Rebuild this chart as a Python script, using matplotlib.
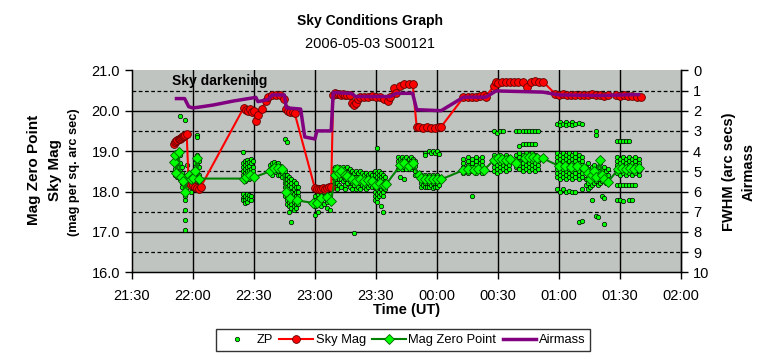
import matplotlib
matplotlib.use("Agg")
import matplotlib.pyplot as plt
from matplotlib.lines import Line2D
from matplotlib.ticker import FixedLocator, FuncFormatter

plt.rcParams['font.family'] = ['Liberation Sans', 'DejaVu Sans']

# Sky Mag (mag per sq. arc sec)
sky_time = ["21:51", "21:51.5", "21:52", "21:52.5", "21:53", "21:53.5", "21:54", "21:54.5",
            "21:55", "21:55.5", "21:56", "21:57", "21:58", "21:59", "22:00", "22:01", "22:02",
            "22:03", "22:04", "22:25", "22:26", "22:27", "22:28", "22:29", "22:30", "22:31",
            "22:32", "22:34", "22:36", "22:37", "22:39", "22:41", "22:43", "22:45", "22:46",
            "22:47", "22:48", "22:49", "22:50", "23:00", "23:01", "23:02", "23:03", "23:04",
            "23:05", "23:06", "23:07", "23:08", "23:09", "23:10", "23:11", "23:12", "23:13",
            "23:14", "23:15", "23:16", "23:17", "23:18", "23:19", "23:20", "23:21", "23:22",
            "23:24", "23:26", "23:28", "23:30", "23:32", "23:34", "23:36", "23:37", "23:39",
            "23:40", "23:42", "23:44", "23:46", "23:48", "23:50", "23:51", "23:53", "23:55",
            "23:57", "23:59", "00:01", "00:02", "00:13", "00:15", "00:17", "00:19", "00:21",
            "00:23", "00:24", "00:28", "00:29", "00:30", "00:32", "00:34", "00:36", "00:38",
            "00:40", "00:42", "00:44", "00:46", "00:48", "00:50", "00:52", "00:58", "01:00",
            "01:02", "01:04", "01:06", "01:08", "01:10", "01:12", "01:14", "01:16", "01:18",
            "01:20", "01:22", "01:24", "01:28", "01:30", "01:32", "01:34", "01:36", "01:38",
            "01:40"]
sky_mag = [19.18, 19.22, 19.25, 19.28, 19.30, 19.30, 19.33, 19.35,
           19.37, 19.38, 19.40, 19.43, 18.20, 18.15, 18.15, 18.10, 18.08,
           18.05, 18.12, 20.07, 20.02, 20.00, 20.03, 19.98, 20.00, 19.75,
           19.90, 20.05, 20.25, 20.35, 20.38, 20.38, 20.38, 20.30, 20.05,
           20.00, 19.98, 19.98, 19.95, 18.08, 18.05, 18.06, 18.05, 18.08,
           18.05, 18.08, 18.10, 18.10, 20.40, 20.45, 20.42, 20.42, 20.40,
           20.42, 20.40, 20.40, 20.38, 20.20, 20.15, 20.20, 20.30, 20.33,
           20.35, 20.35, 20.37, 20.35, 20.33, 20.30, 20.25, 20.35, 20.55,
           20.45, 20.62, 20.65, 20.67, 20.67, 19.60, 19.60, 19.58, 19.60,
           19.58, 19.58, 19.60, 19.60, 20.33, 20.35, 20.35, 20.35, 20.37,
           20.38, 20.35, 20.62, 20.72, 20.68, 20.72, 20.70, 20.72, 20.72,
           20.70, 20.72, 20.58, 20.72, 20.73, 20.72, 20.72, 20.42, 20.40,
           20.42, 20.40, 20.40, 20.40, 20.38, 20.40, 20.40, 20.42, 20.40,
           20.38, 20.37, 20.38, 20.38, 20.37, 20.38, 20.36, 20.36, 20.35,
           20.33]

# Mag Zero Point
mzp_time = ["21:51", "21:51.5", "21:52", "21:53", "21:54", "21:55", "21:56", "21:58",
            "21:59", "22:00", "22:01", "22:02", "22:03", "22:25", "22:26", "22:28", "22:30",
            "22:38", "22:40", "22:42", "22:44", "22:46", "22:48", "22:51", "22:59", "23:01",
            "23:03", "23:06", "23:08", "23:10", "23:11", "23:12", "23:13", "23:15", "23:16",
            "23:18", "23:20", "23:22", "23:24", "23:26", "23:28", "23:30", "23:32", "23:34",
            "23:35", "23:42", "23:44", "23:46", "23:48", "23:51", "23:52", "23:54", "23:56",
            "23:58", "00:00", "00:02", "00:13", "00:15", "00:18", "00:20", "00:23", "00:28",
            "00:30", "00:32", "00:34", "00:36", "00:39", "00:43", "00:45", "00:47", "00:49",
            "00:52", "01:00", "01:03", "01:06", "01:09", "01:12", "01:14", "01:15", "01:16",
            "01:17", "01:18", "01:20", "01:21", "01:22", "01:24", "01:29", "01:31", "01:33",
            "01:35", "01:37", "01:39"]
mzp_mag = [18.72, 18.90, 18.45, 18.97, 18.37, 18.25, 18.00, 18.40,
           18.30, 18.33, 18.50, 18.82, 18.32, 18.32, 18.35, 18.40, 18.35,
           18.50, 18.58, 18.58, 18.55, 17.98, 17.85, 17.78, 17.72, 17.71,
           17.83, 17.87, 17.77, 18.40, 18.55, 18.45, 18.50, 18.40, 18.38,
           18.30, 18.25, 18.30, 18.25, 18.28, 18.25, 18.15, 18.20, 18.15,
           18.18, 18.65, 18.70, 18.62, 18.70, 18.41, 18.33, 18.30, 18.32,
           18.30, 18.30, 18.30, 18.53, 18.55, 18.52, 18.55, 18.53, 18.78,
           18.82, 18.80, 18.78, 18.80, 18.70, 18.82, 18.85, 18.85, 18.83,
           18.82, 18.63, 18.62, 18.60, 18.62, 18.58, 18.45, 18.30, 18.40,
           18.50, 18.35, 18.78, 18.40, 18.30, 18.24, 18.55, 18.57, 18.55,
           18.57, 18.55, 18.58]

# Airmass (right axis)
air_time = ["21:52", "21:56", "21:58", "22:00", "22:02", "22:10", "22:20", "22:31", "22:32",
            "22:37", "22:39", "22:45", "22:46", "22:51", "22:53", "22:55", "23:00", "23:01",
            "23:08", "23:09", "23:18", "23:20", "23:37", "23:40", "23:48", "23:50", "00:02",
            "00:13", "00:24", "00:29", "00:52", "01:00", "01:20", "01:39"]
airmass = [1.40, 1.40, 1.80, 1.86, 1.84, 1.72, 1.52, 1.34, 1.55,
           1.45, 1.22, 1.22, 1.86, 1.90, 1.92, 3.30, 3.40, 3.00,
           3.00, 1.10, 1.15, 1.30, 1.30, 1.14, 1.14, 1.95, 2.00,
           1.33, 1.33, 1.02, 1.08, 1.22, 1.25, 1.20]

# ZP - individual frames, one column per time
zp_time = ["21:51.5", "21:52.5", "21:53.5", "21:54.5", "21:56", "21:57", "21:59", "22:00",
           "22:01", "22:02", "22:03",
           "22:24.5", "22:25.5", "22:26.5", "22:27.5", "22:28.5", "22:29.5",
           "22:38", "22:39", "22:40", "22:41", "22:42", "22:43", "22:44",
           "22:45.5", "22:46.5", "22:47.5", "22:48.5", "22:49.5", "22:50.5", "22:51.5",
           "23:00", "23:01.5", "23:03", "23:04.5", "23:06", "23:07.5",
           "23:09", "23:10", "23:11", "23:12", "23:13", "23:14", "23:15", "23:16", "23:17",
           "23:18", "23:19", "23:20", "23:21", "23:22", "23:23", "23:24", "23:25", "23:26",
           "23:27", "23:28",
           "23:29.5", "23:30.5", "23:31.5", "23:32.5", "23:33.5", "23:34.5",
           "23:41", "23:42", "23:43", "23:44", "23:45", "23:46", "23:47", "23:48", "23:49",
           "23:52", "23:53", "23:54", "23:55", "23:56", "23:57", "23:58", "23:59", "00:00",
           "00:01",
           "00:13", "00:15", "00:17", "00:19", "00:21", "00:22",
           "00:28", "00:29.5", "00:31", "00:32.5", "00:34", "00:35.5",
           "00:39", "00:40.5", "00:42", "00:43.5", "00:45", "00:46.5", "00:48", "00:49.5",
           "00:59", "01:00.5", "01:02", "01:03.5", "01:05", "01:06.5", "01:08", "01:09.5",
           "01:11",
           "01:13", "01:14", "01:15", "01:16", "01:17", "01:18", "01:19", "01:20", "01:21",
           "01:22", "01:23", "01:24",
           "01:28.5", "01:30", "01:31.5", "01:33", "01:34.5", "01:36", "01:37.5", "01:39"]
zp_mag = [
    [18.85, 18.75, 18.65, 18.55, 18.45, 18.40],
    [18.95, 18.80, 18.70, 18.60, 18.50, 18.35],
    [19.86, 18.90, 18.70, 18.50, 18.40, 18.30],
    [18.60, 18.45, 18.30, 18.20, 18.10],
    [19.78, 18.30, 18.15, 18.00, 17.90, 17.78, 17.55, 17.30, 17.05],
    [18.65, 18.40, 18.20, 18.10],
    [18.45, 18.30, 18.20, 18.10, 18.00],
    [18.50, 18.35, 18.20, 18.10],
    [18.70, 18.55, 18.35, 18.20],
    [19.40, 19.35, 18.90, 18.80, 18.65, 18.45, 18.30],
    [18.75, 18.60, 18.40, 18.25],
    [18.97, 18.70, 18.60, 18.50, 18.40, 18.30, 17.95, 17.85, 17.78],
    [18.75, 18.65, 18.55, 18.45, 18.35, 18.25, 17.90, 17.80, 17.72],
    [18.78, 18.70, 18.60, 18.50, 18.40, 18.30, 17.95, 17.85, 17.75],
    [18.72, 18.62, 18.52, 18.42, 18.30, 17.92, 17.82],
    [18.80, 18.70, 18.55, 18.45, 18.35, 17.90, 17.80],
    [18.75, 18.60, 18.50, 18.40],
    [18.65, 18.55, 18.45],
    [18.70, 18.60, 18.50, 18.42],
    [18.72, 18.62, 18.52],
    [18.68, 18.58, 18.48],
    [18.70, 18.60, 18.50, 18.40],
    [18.62, 18.52, 18.42],
    [18.55, 18.45, 18.35],
    [19.30, 18.50, 18.40, 18.30, 18.20, 18.10, 18.00, 17.90],
    [19.22, 18.40, 18.30, 18.20, 18.10, 18.00, 17.90, 17.80, 17.70],
    [18.35, 18.25, 18.15, 18.05, 17.95, 17.85, 17.75, 17.65, 17.50],
    [18.30, 18.20, 18.10, 18.00, 17.90, 17.80, 17.70, 17.60, 17.25],
    [18.25, 18.15, 18.05, 17.95, 17.85, 17.75, 17.65, 17.55],
    [18.20, 18.10, 18.00, 17.90, 17.80, 17.70, 17.60],
    [18.10, 18.00, 17.90, 17.80, 17.70],
    [18.05, 17.90, 17.80, 17.65, 17.42],
    [18.10, 17.95, 17.85, 17.70, 17.50],
    [18.05, 17.95, 17.80, 17.65],
    [18.10, 18.00, 17.85, 17.70],
    [18.05, 17.90, 17.75, 17.60],
    [18.10, 17.95, 17.80, 17.55],
    [18.55, 18.45, 18.35, 18.25],
    [18.60, 18.50, 18.40, 18.30, 18.20, 18.10],
    [18.55, 18.45, 18.35, 18.20, 18.05],
    [18.60, 18.50, 18.40, 18.30, 18.15],
    [18.55, 18.45, 18.30, 18.10],
    [18.60, 18.50, 18.38, 18.25],
    [18.55, 18.42, 18.30, 18.15, 18.05],
    [18.60, 18.48, 18.35, 18.20],
    [18.55, 18.40, 18.25, 18.10],
    [18.50, 18.38, 18.22, 18.05],
    [18.45, 18.30, 18.15, 16.97],
    [18.50, 18.35, 18.20, 18.05],
    [18.45, 18.30, 18.10],
    [18.50, 18.35, 18.20, 18.05],
    [18.45, 18.30, 18.15],
    [18.40, 18.25, 18.10],
    [18.45, 18.30, 18.15, 18.05],
    [18.40, 18.25, 18.10],
    [18.45, 18.30, 18.15],
    [18.40, 18.25, 18.10],
    [18.50, 18.40, 18.30, 18.20, 18.10, 18.00, 17.90, 17.80],
    [19.08, 18.45, 18.35, 18.25, 18.15, 18.05, 17.95, 17.85, 17.75],
    [18.50, 18.40, 18.30, 18.20, 18.10, 18.00, 17.90],
    [18.45, 18.35, 18.25, 18.15, 18.05, 17.95, 17.65],
    [18.40, 18.30, 18.20, 18.10, 18.00, 17.90, 17.50],
    [18.35, 18.25, 18.15, 18.05],
    [18.85, 18.75, 18.65, 18.55],
    [18.80, 18.70, 18.60, 18.37],
    [18.85, 18.75, 18.65, 18.55],
    [18.80, 18.70, 18.60, 18.31],
    [18.85, 18.75, 18.65, 18.55],
    [18.80, 18.70, 18.60],
    [18.85, 18.75, 18.65, 18.55],
    [18.80, 18.70, 18.60],
    [18.75, 18.62, 18.50, 18.40],
    [18.40, 18.30, 18.20, 18.10],
    [18.38, 18.27, 18.15],
    [18.95, 18.90, 18.40, 18.30, 18.20, 18.10],
    [18.35, 18.25, 18.12],
    [19.00, 18.40, 18.30, 18.20, 18.10],
    [18.95, 18.35, 18.25, 18.15],
    [19.00, 18.40, 18.30, 18.20, 18.08],
    [18.95, 18.35, 18.25, 18.12],
    [19.00, 18.40, 18.30, 18.20, 18.10],
    [18.92, 18.35, 18.25, 18.15],
    [18.80, 18.70, 18.60, 18.50, 18.45],
    [18.85, 18.75, 18.65, 18.55, 18.45],
    [18.80, 18.70, 18.60, 18.50, 17.90],
    [18.85, 18.75, 18.65, 18.55, 18.45],
    [18.80, 18.70, 18.60, 18.50],
    [18.85, 18.75, 18.65, 18.55, 18.45],
    [19.50, 18.90, 18.80, 18.70, 18.60, 18.50],
    [19.45, 18.85, 18.75, 18.65, 18.55, 18.45],
    [19.50, 18.90, 18.80, 18.70, 18.60, 18.50],
    [19.50, 18.85, 18.75, 18.65, 18.55],
    [18.90, 18.80, 18.70, 18.60, 18.50],
    [18.85, 18.75, 18.65, 18.55],
    [19.50, 18.90, 18.80, 18.70, 18.60],
    [19.50, 19.12, 18.95, 18.85, 18.75, 18.65, 18.55],
    [19.50, 19.18, 18.90, 18.80, 18.70, 18.60, 18.50],
    [19.50, 19.18, 18.95, 18.85, 18.75, 18.65, 18.55],
    [19.50, 19.18, 18.90, 18.80, 18.70, 18.60, 18.50],
    [19.50, 19.18, 18.95, 18.85, 18.75, 18.65, 18.55],
    [19.50, 19.18, 18.90, 18.80, 18.70, 18.60, 18.50],
    [19.50, 18.85, 18.75, 18.65, 18.55],
    [19.68, 18.95, 18.85, 18.75, 18.65, 18.55, 18.45, 18.35, 18.05],
    [19.72, 19.65, 18.90, 18.80, 18.70, 18.60, 18.50, 18.40, 18.30, 18.00],
    [19.68, 18.95, 18.85, 18.75, 18.65, 18.55, 18.45, 18.35, 18.05],
    [19.72, 19.65, 18.90, 18.80, 18.70, 18.60, 18.50, 18.40, 18.30, 18.00],
    [19.68, 18.95, 18.85, 18.75, 18.65, 18.55, 18.45, 18.35, 18.02],
    [19.72, 19.65, 18.90, 18.80, 18.70, 18.60, 18.50, 18.40, 18.30, 17.98],
    [19.68, 18.95, 18.85, 18.75, 18.65, 18.55, 18.45, 18.35, 18.00],
    [19.70, 18.90, 18.80, 18.70, 18.60, 18.50, 18.40, 18.30, 17.24],
    [19.68, 18.85, 18.75, 18.65, 18.55, 18.45, 18.35, 18.05, 17.26],
    [18.60, 18.45, 18.30, 18.15],
    [18.70, 18.50, 18.35, 18.20, 18.05],
    [18.55, 18.40, 18.25, 18.10],
    [18.60, 18.45, 18.30, 18.15, 17.78],
    [18.65, 18.50, 18.35, 18.20],
    [19.50, 19.40, 18.55, 18.40, 18.25, 17.40],
    [18.60, 18.45, 18.30, 18.15, 17.36],
    [18.70, 18.50, 18.35, 18.20],
    [18.55, 18.40, 18.25, 17.90],
    [18.60, 18.45, 18.30, 17.85, 17.20],
    [18.50, 18.35, 18.20],
    [18.55, 18.40, 18.25],
    [19.26, 18.85, 18.75, 18.65, 18.55, 18.45, 18.15, 17.78],
    [19.26, 18.80, 18.70, 18.60, 18.50, 18.40, 18.15, 17.80],
    [19.26, 18.85, 18.75, 18.65, 18.55, 18.45, 18.15, 17.76],
    [19.26, 18.80, 18.70, 18.60, 18.50, 18.40, 18.15],
    [19.26, 18.85, 18.75, 18.65, 18.55, 18.45, 18.15, 17.80],
    [18.80, 18.70, 18.60, 18.50, 18.40, 18.15, 17.78],
    [18.85, 18.75, 18.65, 18.55, 18.45, 18.15],
    [18.80, 18.70, 18.60, 18.50, 18.40],
]

tick_labels = ["21:30", "22:00", "22:30", "23:00", "23:30", "00:00", "00:30", "01:00", "01:30", "02:00"]


def t2x(s):
    # "HH:MM" -> hours, running past midnight
    h, m = s.split(":")
    x = int(h) + float(m) / 60.0
    if x < 12:
        x += 24
    return x


fig = plt.figure(figsize=(7.63, 3.57), dpi=100)
ax = fig.add_axes([131.7 / 763, 1 - 272.3 / 357, (681.3 - 131.7) / 763, (272.3 - 70.3) / 357])
ax.set_facecolor('#c0c4c0')

# grid
for v in [16.5, 17.5, 18.5, 19.5, 20.5]:
    ax.axhline(v, color='black', lw=0.9, ls=(0, (3, 2)), zorder=0.5)
for v in [17, 18, 19, 20]:
    ax.axhline(v, color='black', lw=1.0, zorder=0.5)
xticks = [t2x(s) for s in tick_labels]
for v in xticks[1:-1]:
    ax.axvline(v, color='black', lw=1.0, zorder=0.5)

# ZP dots
zx, zy = [], []
for t, vals in zip(zp_time, zp_mag):
    for v in vals:
        zx.append(t2x(t))
        zy.append(v)
ax.plot(zx, zy, ls='none', marker='o', ms=3.2, mfc='#00ff00', mec='black', mew=0.5, zorder=2)

# Sky Mag
ax.plot([t2x(s) for s in sky_time], sky_mag, color='#ff0000', lw=1.5, marker='o', ms=5.6,
        mfc='#ff0000', mec='#600000', mew=0.6, zorder=3)

# Mag Zero Point
ax.plot([t2x(s) for s in mzp_time], mzp_mag, color='#008000', lw=1.5, marker='D', ms=5.6,
        mfc='#00ff00', mec='#006000', mew=0.6, zorder=4)

ax.set_xlim(21.5, 26.0)
ax.set_ylim(16, 21)
ax.xaxis.set_major_locator(FixedLocator(xticks))
ax.set_xticklabels(tick_labels)
ax.yaxis.set_major_locator(FixedLocator([16, 17, 18, 19, 20, 21]))
ax.yaxis.set_major_formatter(FuncFormatter(lambda v, p: "%.1f" % v))
ax.tick_params(axis='both', direction='out', length=5, width=1, labelsize=10.5, colors='black')
ax.tick_params(axis='x', pad=7)
ax.spines['top'].set_visible(False)
for s in ['left', 'bottom', 'right']:
    ax.spines[s].set_linewidth(1.0)

ax.text(t2x("21:50"), 20.74, "Sky darkening", fontsize=10, fontweight='bold', va='center', ha='left')

# Airmass on the secondary axis
ax2 = ax.twinx()
ax2.plot([t2x(s) for s in air_time], airmass, color='#800080', lw=2.5, zorder=5)
ax2.set_ylim(10, 0)
ax2.yaxis.set_major_locator(FixedLocator(range(0, 11)))
ax2.tick_params(axis='y', direction='out', length=5, width=1, labelsize=10.5, colors='black')
ax2.spines['top'].set_visible(False)
ax2.spines['right'].set_linewidth(1.0)

ax.set_xlabel("Time (UT)", fontsize=10.5, fontweight='bold', labelpad=0)

# titles and axis labels
fig.text(370 / 763, 1 - 21 / 357, "Sky Conditions Graph", fontsize=10, fontweight='bold', ha='center', va='center')
fig.text(370 / 763, 1 - 44 / 357, "2006-05-03 S00121", fontsize=10.5, ha='center', va='center')
fig.text(34 / 763, 1 - 170 / 357, "Mag Zero Point", fontsize=11, fontweight='bold', rotation=90, ha='center', va='center')
fig.text(55 / 763, 1 - 170 / 357, "Sky Mag", fontsize=11, fontweight='bold', rotation=90, ha='center', va='center')
fig.text(74 / 763, 1 - 172 / 357, "(mag per sq. arc sec)", fontsize=9.2, fontweight='bold', rotation=90, ha='center', va='center')
fig.text(729 / 763, 1 - 172 / 357, "FWHM (arc secs)", fontsize=10.5, fontweight='bold', rotation=90, ha='center', va='center')
fig.text(749 / 763, 1 - 172 / 357, "Airmass", fontsize=10.5, fontweight='bold', rotation=90, ha='center', va='center')

# legend
handles = [
    Line2D([], [], ls='none', marker='o', ms=3.2, mfc='#00ff00', mec='black', mew=0.5),
    Line2D([], [], color='#ff0000', lw=1.5, marker='o', ms=5.6, mfc='#ff0000', mec='#600000', mew=0.6),
    Line2D([], [], color='#008000', lw=1.5, marker='D', ms=5, mfc='#00ff00', mec='#006000', mew=0.6),
    Line2D([], [], color='#800080', lw=2.5),
]
leg = fig.legend(handles, ["ZP", "Sky Mag", "Mag Zero Point", "Airmass"], loc='center',
                 bbox_to_anchor=(403 / 763, 1 - 340 / 357), ncol=4, fontsize=9.3, frameon=True,
                 fancybox=False, edgecolor='black', handlelength=2.6, handletextpad=0.2,
                 columnspacing=0.5, borderpad=0.35)
leg.get_frame().set_linewidth(1.0)

fig.savefig('out.png', dpi=100)
